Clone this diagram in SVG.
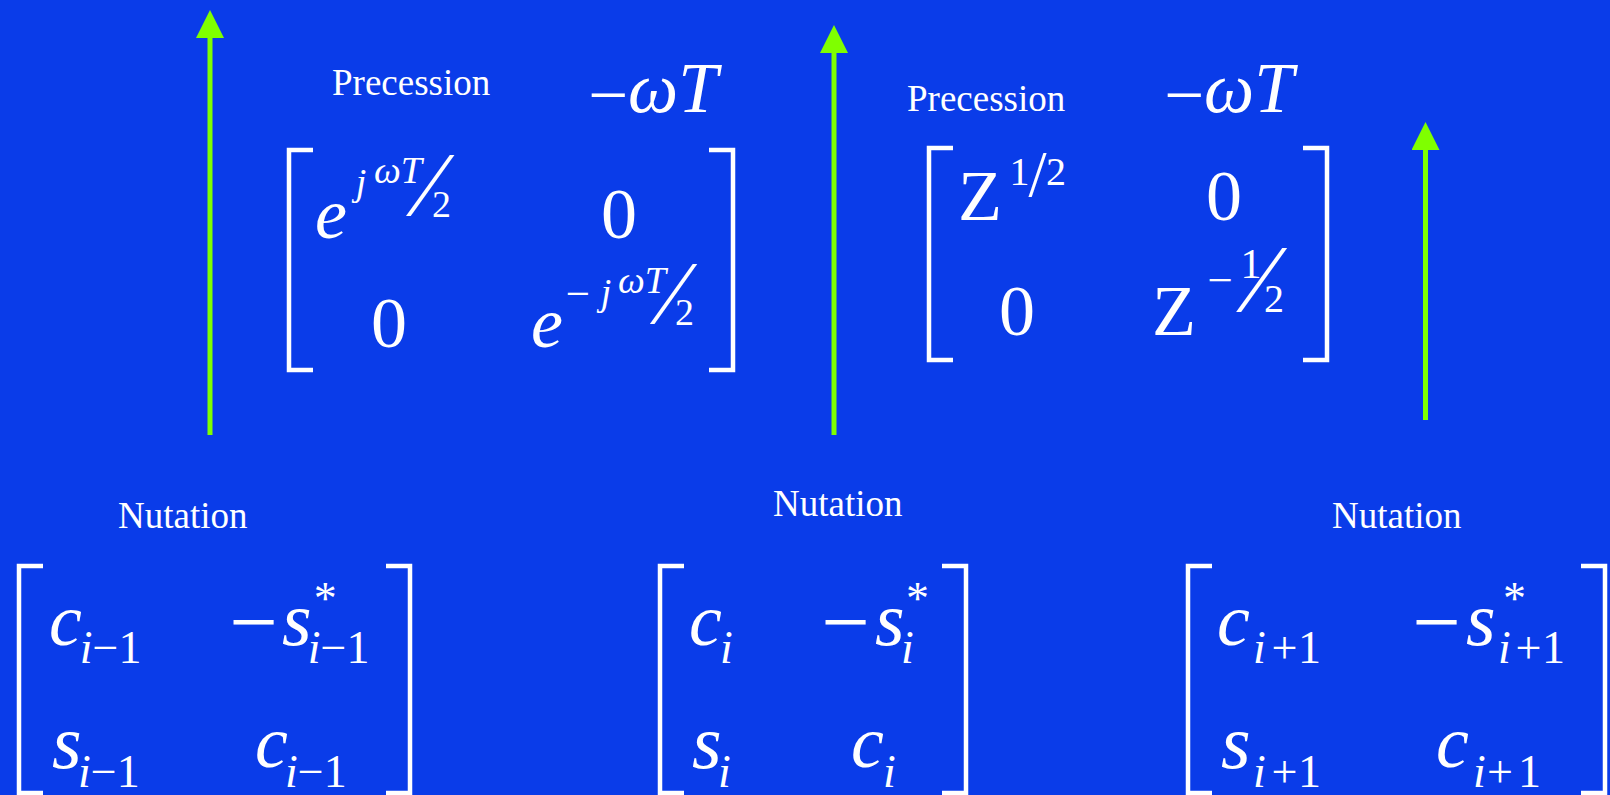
<svg xmlns="http://www.w3.org/2000/svg" width="1610" height="795" viewBox="0 0 1610 795">
<style>
text{fill:#ffffff}
.br{fill:none;stroke:#ffffff;stroke-width:4.5;stroke-linejoin:miter}
.arr{stroke:#7fff00;stroke-width:5;fill:none}
</style>
<defs>
<marker id="ah" markerUnits="userSpaceOnUse" markerWidth="28" markerHeight="28" viewBox="0 0 28 28" refX="0" refY="14" orient="auto">
<path d="M0,0 L28,14 L0,28 z" fill="#7fff00"/>
</marker>
</defs>
<rect x="0" y="0" width="1610" height="795" fill="#0a3ce9"/>

<g id="connectors">
<line class="arr" x1="210" y1="435" x2="210" y2="38" marker-end="url(#ah)"/>
<line class="arr" x1="834" y1="435" x2="834" y2="53" marker-end="url(#ah)"/>
<line class="arr" x1="1425.5" y1="420" x2="1425.5" y2="150" marker-end="url(#ah)"/>
</g>

<g id="precession1" font-family="Liberation Serif">
<text font-family="Liberation Serif" font-size="37" x="332" y="95">Precession</text>
<text font-family="Liberation Serif" font-size="71" x="588" y="119">−</text>
<text font-family="Liberation Serif" font-size="71" font-style="italic" x="628" y="112">ωT</text>
<path class="br" d="M313,150 H289 V370 H313"/>
<path class="br" d="M709,150 H733 V370 H709"/>
<text font-family="Liberation Serif" font-size="72" font-style="italic" x="315" y="238">e</text>
<text font-family="Liberation Serif" font-size="38" font-style="italic" x="355.7" y="195">j</text>
<text font-family="Liberation Serif" font-size="38" font-style="italic" x="374" y="183">ωT</text>
<text font-family="Liberation Serif" font-size="93" x="422.6" y="216">⁄</text>
<text font-family="Liberation Serif" font-size="38" x="432" y="217">2</text>
<text font-family="Liberation Serif" font-size="72" x="601" y="238">0</text>
<text font-family="Liberation Serif" font-size="72" x="371" y="347">0</text>
<text font-family="Liberation Serif" font-size="72" font-style="italic" x="531" y="347">e</text>
<text font-family="Liberation Serif" font-size="43" x="565.7" y="308">−</text>
<text font-family="Liberation Serif" font-size="38" font-style="italic" x="600.7" y="305">j</text>
<text font-family="Liberation Serif" font-size="38" font-style="italic" x="618" y="293">ωT</text>
<text font-family="Liberation Serif" font-size="91" x="666" y="324">⁄</text>
<text font-family="Liberation Serif" font-size="38" x="675" y="325">2</text>
</g>

<g id="precession2" font-family="Liberation Serif">
<text font-family="Liberation Serif" font-size="37" x="907" y="111">Precession</text>
<text font-family="Liberation Serif" font-size="71" x="1164" y="119">−</text>
<text font-family="Liberation Serif" font-size="71" font-style="italic" x="1204" y="112">ωT</text>
<path class="br" d="M953,148 H929 V360 H953"/>
<path class="br" d="M1303,148 H1327 V360 H1303"/>
<text font-family="Liberation Serif" font-size="72" x="958" y="220">Z</text>
<text font-family="Liberation Serif" font-size="40" x="1009.6" y="185">1</text>
<text font-family="Liberation Serif" font-size="65" x="1028.6" y="196">/</text>
<text font-family="Liberation Serif" font-size="40" x="1046" y="185">2</text>
<text font-family="Liberation Serif" font-size="72" x="1206" y="220">0</text>
<text font-family="Liberation Serif" font-size="72" x="999" y="335">0</text>
<text font-family="Liberation Serif" font-size="72" x="1152" y="335">Z</text>
<text font-family="Liberation Serif" font-size="45" x="1207.6" y="295">−</text>
<text font-family="Liberation Serif" font-size="42" x="1240.6" y="278">1</text>
<text font-family="Liberation Serif" font-size="98" x="1253.5" y="312">⁄</text>
<text font-family="Liberation Serif" font-size="40" x="1264" y="312">2</text>
</g>

<g id="nutation1" font-family="Liberation Serif">
<text font-family="Liberation Serif" font-size="37" x="118" y="528">Nutation</text>
<path class="br" d="M43,566 H19 V793 H43"/>
<path class="br" d="M386,566 H410 V793 H386"/>
<text font-family="Liberation Serif" font-size="74" font-style="italic" x="49" y="645">c</text>
<text font-family="Liberation Serif" font-size="46" x="79.7" y="663"><tspan font-style="italic">i</tspan>−1</text>
<text font-family="Liberation Serif" font-size="86" x="229.4" y="651">−</text>
<text font-family="Liberation Serif" font-size="76" font-style="italic" x="282" y="645">s</text>
<text font-family="Liberation Serif" font-size="46" x="313.8" y="614">*</text>
<text font-family="Liberation Serif" font-size="46" x="307.7" y="663"><tspan font-style="italic">i</tspan>−1</text>
<text font-family="Liberation Serif" font-size="76" font-style="italic" x="52" y="768">s</text>
<text font-family="Liberation Serif" font-size="46" x="78" y="787"><tspan font-style="italic">i</tspan>−1</text>
<text font-family="Liberation Serif" font-size="74" font-style="italic" x="255" y="767">c</text>
<text font-family="Liberation Serif" font-size="46" x="285" y="787"><tspan font-style="italic">i</tspan>−1</text>
</g>

<g id="nutation2" font-family="Liberation Serif">
<text font-family="Liberation Serif" font-size="37" x="773" y="516">Nutation</text>
<path class="br" d="M684,566 H660 V793 H684"/>
<path class="br" d="M942,566 H966 V793 H942"/>
<text font-family="Liberation Serif" font-size="74" font-style="italic" x="689" y="645">c</text>
<text font-family="Liberation Serif" font-size="46" font-style="italic" x="720" y="663">i</text>
<text font-family="Liberation Serif" font-size="86" x="821.4" y="651">−</text>
<text font-family="Liberation Serif" font-size="76" font-style="italic" x="875" y="645">s</text>
<text font-family="Liberation Serif" font-size="46" x="906" y="614">*</text>
<text font-family="Liberation Serif" font-size="46" font-style="italic" x="901" y="663">i</text>
<text font-family="Liberation Serif" font-size="76" font-style="italic" x="692" y="768">s</text>
<text font-family="Liberation Serif" font-size="46" font-style="italic" x="718" y="787">i</text>
<text font-family="Liberation Serif" font-size="74" font-style="italic" x="851" y="767">c</text>
<text font-family="Liberation Serif" font-size="46" font-style="italic" x="883" y="787">i</text>
</g>

<g id="nutation3" font-family="Liberation Serif">
<text font-family="Liberation Serif" font-size="37" x="1332" y="528">Nutation</text>
<path class="br" d="M1212,566 H1188 V793 H1212"/>
<path class="br" d="M1581,566 H1605 V793 H1581"/>
<text font-family="Liberation Serif" font-size="74" font-style="italic" x="1217" y="645">c</text>
<text font-family="Liberation Serif" font-size="46" font-style="italic" x="1253" y="663">i</text>
<text font-family="Liberation Serif" font-size="46" x="1271.6" y="663">+</text>
<text font-family="Liberation Serif" font-size="46" x="1298" y="663">1</text>
<text font-family="Liberation Serif" font-size="86" x="1412.4" y="651">−</text>
<text font-family="Liberation Serif" font-size="76" font-style="italic" x="1466" y="645">s</text>
<text font-family="Liberation Serif" font-size="46" x="1503" y="614">*</text>
<text font-family="Liberation Serif" font-size="46" font-style="italic" x="1498" y="663">i</text>
<text font-family="Liberation Serif" font-size="46" x="1515.6" y="663">+</text>
<text font-family="Liberation Serif" font-size="46" x="1542" y="663">1</text>
<text font-family="Liberation Serif" font-size="76" font-style="italic" x="1221" y="768">s</text>
<text font-family="Liberation Serif" font-size="46" font-style="italic" x="1253" y="787">i</text>
<text font-family="Liberation Serif" font-size="46" x="1271.6" y="787">+</text>
<text font-family="Liberation Serif" font-size="46" x="1298" y="787">1</text>
<text font-family="Liberation Serif" font-size="74" font-style="italic" x="1436" y="767">c</text>
<text font-family="Liberation Serif" font-size="46" font-style="italic" x="1473" y="787">i</text>
<text font-family="Liberation Serif" font-size="46" x="1487" y="787">+</text>
<text font-family="Liberation Serif" font-size="46" x="1518" y="787">1</text>
</g>
</svg>
